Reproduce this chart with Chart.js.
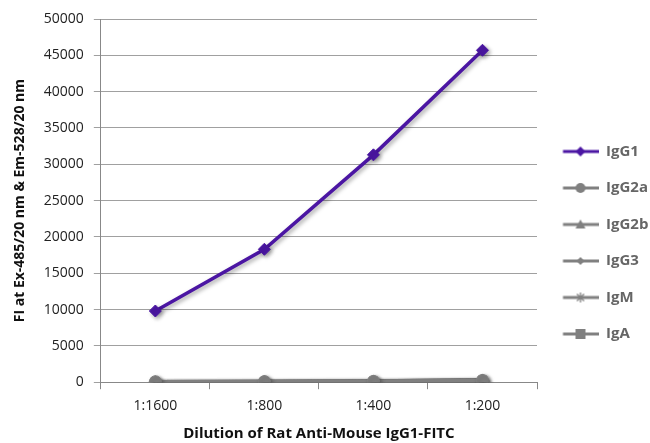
<!DOCTYPE html>
<html>
<head>
<meta charset="utf-8">
<script src="https://cdn.jsdelivr.net/npm/chart.js@4/dist/chart.umd.min.js"></script>
<style>
  html, body { margin: 0; padding: 0; background: #fff; }
  #wrap { width: 650px; height: 443px; }
</style>
</head>
<body>
<div id="wrap"><canvas id="chart"></canvas></div>
<script>
const dilutions = ['1:1600', '1:800', '1:400', '1:200'];
const igg1 = [9800, 18300, 31300, 45700];
const igg2a = [60, 80, 120, 250];
const igg2b = [50, 70, 110, 220];
const igg3 = [40, 60, 100, 200];
const igm = [70, 90, 150, 300];
const iga = [60, 90, 160, 330];
const yTicks = [0, 5000, 10000, 15000, 20000, 25000, 30000, 35000, 40000, 45000, 50000];

const purple = '#4b16a3';
const grey = '#808080';
const fontFam = '"Open Sans", "Noto Sans", sans-serif';

// legend swatch: short line with the marker on it
function swatch(color, style, r) {
  const c = document.createElement('canvas');
  c.width = 40; c.height = 14;
  const g = c.getContext('2d');
  g.strokeStyle = color; g.fillStyle = color; g.lineWidth = 3;
  g.beginPath(); g.moveTo(4.5, 7); g.lineTo(40, 7); g.stroke();
  const x = 22, y = 7;
  g.beginPath();
  if (style === 'rectRot') {
    g.moveTo(x, y - r); g.lineTo(x + r, y); g.lineTo(x, y + r); g.lineTo(x - r, y); g.closePath(); g.fill();
  } else if (style === 'circle') {
    g.arc(x, y, r, 0, Math.PI * 2); g.fill();
  } else if (style === 'triangle') {
    g.moveTo(x, y - r); g.lineTo(x + r, y + r * 0.8); g.lineTo(x - r, y + r * 0.8); g.closePath(); g.fill();
  } else if (style === 'star') {
    g.lineWidth = 1.3;
    for (let a = 0; a < 4; a++) {
      const t = a * Math.PI / 4;
      g.moveTo(x - Math.cos(t) * r, y - Math.sin(t) * r);
      g.lineTo(x + Math.cos(t) * r, y + Math.sin(t) * r);
    }
    g.stroke();
  } else if (style === 'rect') {
    g.fillRect(x - r, y - r, r * 2, r * 2);
  }
  return c;
}

function ds(label, data, color, style, radius) {
  return {
    label: label,
    data: data,
    borderColor: color,
    backgroundColor: color,
    borderWidth: 3.5,
    pointStyle: style,
    pointRadius: radius,
    pointBorderWidth: style === 'star' ? 1.5 : 1,
    pointBorderColor: color,
    fill: false,
    tension: 0,
    legendImg: swatch(color, style, style === 'rectRot' && label === 'IgG3' ? 4 : 5)
  };
}

const shadow = {
  id: 'shadow',
  beforeDatasetsDraw(chart) {
    const ctx = chart.ctx;
    ctx.save();
    ctx.shadowColor = 'rgba(0,0,0,0.35)';
    ctx.shadowBlur = 4;
    ctx.shadowOffsetX = 2;
    ctx.shadowOffsetY = 2;
  },
  afterDatasetsDraw(chart) { chart.ctx.restore(); }
};

// keep the legend column narrow so the plot reaches x≈537
const legendWidth = {
  id: 'legendWidth',
  afterInit(chart) {
    const lg = chart.legend;
    if (!lg) return;
    const fit = lg.fit;
    lg.fit = function () {
      fit.call(this);
      this.width = 113;
    };
  }
};

new Chart(document.getElementById('chart'), {
  type: 'line',
  data: {
    labels: dilutions,
    datasets: [
      ds('IgG1', igg1, purple, 'rectRot', 6),
      ds('IgG2a', igg2a, grey, 'circle', 6),
      ds('IgG2b', igg2b, grey, 'triangle', 6),
      ds('IgG3', igg3, grey, 'rectRot', 6),
      ds('IgM', igm, grey, 'star', 6),
      ds('IgA', iga, grey, 'rect', 5)
    ]
  },
  options: {
    responsive: true,
    maintainAspectRatio: false,
    animation: false,
    layout: { padding: { top: 19, right: 0, left: 12, bottom: 0 } },
    plugins: {
      tooltip: { enabled: false },
      legend: {
        position: 'right',
        title: { display: true, text: ' ', font: { size: 12 }, padding: { top: 9, bottom: 0 } },
        labels: {
          usePointStyle: true,
          pointStyleWidth: 40,
          padding: 21.5,
          color: '#111',
          font: { family: fontFam, size: 15, weight: 'bold' },
          generateLabels(chart) {
            return chart.data.datasets.map((d, i) => ({
              text: d.label,
              pointStyle: d.legendImg,
              fillStyle: d.borderColor,
              strokeStyle: d.borderColor,
              lineWidth: 0,
              hidden: false,
              datasetIndex: i
            }));
          }
        }
      }
    },
    scales: {
      x: {
        offset: true,
        grid: { offset: true, drawOnChartArea: false, drawTicks: true, tickLength: 7, color: '#888' },
        border: { color: '#888', width: 1 },
        ticks: { color: '#222', font: { family: fontFam, size: 14 }, padding: 8 },
        title: {
          display: true,
          text: 'Dilution of Rat Anti-Mouse IgG1-FITC',
          color: '#111',
          font: { family: fontFam, size: 15, weight: 'bold' },
          padding: { top: 3, bottom: 0 }
        }
      },
      y: {
        min: 0,
        max: 50000,
        afterBuildTicks(axis) { axis.ticks = yTicks.map(v => ({ value: v })); },
        grid: { color: '#a0a0a0', tickLength: 7, lineWidth: 1 },
        border: { color: '#888', width: 1 },
        ticks: {
          color: '#222',
          font: { family: fontFam, size: 14 },
          padding: 10,
          callback: v => String(v)
        },
        title: {
          display: true,
          text: 'FI at Ex-485/20 nm & Em-528/20 nm',
          color: '#111',
          font: { family: fontFam, size: 14, weight: 'bold' },
          padding: { bottom: 5, top: 0 }
        }
      }
    }
  },
  plugins: [shadow, legendWidth]
});
</script>
</body>
</html>
